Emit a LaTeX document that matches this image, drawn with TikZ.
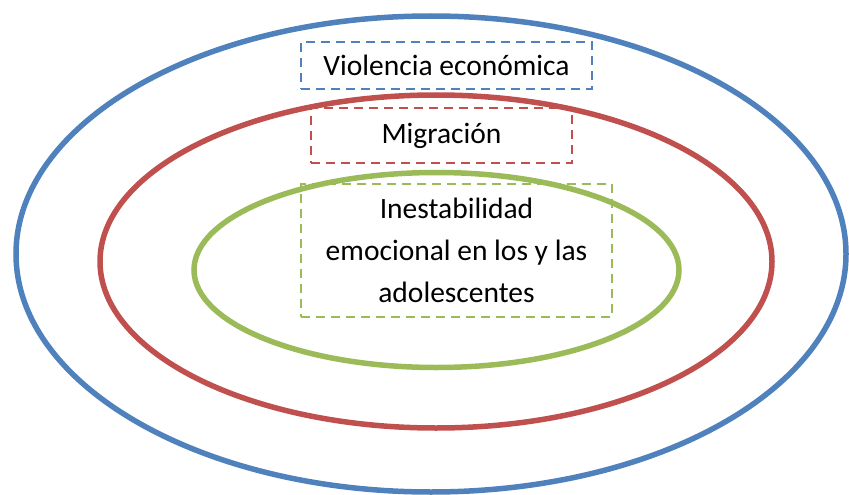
\documentclass[tikz,border=0pt]{standalone}
\usepackage{fontspec}
\setmainfont{Carlito}
\definecolor{azul}{HTML}{4F81BD}
\definecolor{rojo}{HTML}{C0504D}
\definecolor{verde}{HTML}{9BBB59}
\begin{document}
\begin{tikzpicture}[x=1pt, y=-1pt,
    anillo/.style={line width=5.5pt},
    caja/.style={line width=1.8pt, dash pattern=on 9pt off 6pt, align=center,
      inner sep=0pt, text=black, font=\fontsize{29.5}{42}\selectfont}]
    \useasboundingbox (0,0) rectangle (849,495);
    \draw[anillo, azul]  (431,254)   ellipse [x radius=415pt, y radius=238pt];
    \draw[anillo, rojo]  (436,261.5) ellipse [x radius=336pt, y radius=166.5pt];
    \draw[anillo, verde] (436.5,270) ellipse [x radius=242.5pt, y radius=97.5pt];
    \node[caja, draw=azul, minimum width=291pt, minimum height=47pt]
      (violencia) at (446.5,65.5) {Violencia económica};
    \node[caja, draw=rojo, minimum width=261pt, minimum height=55pt]
      (migracion) at (441.5,135.5) {Migración};
    \node[caja, draw=verde, minimum width=311pt, minimum height=133pt]
      (inestabilidad) at (456.5,250.5) {Inestabilidad\\emocional en los y las\\adolescentes};
  \end{tikzpicture}
\end{document}
